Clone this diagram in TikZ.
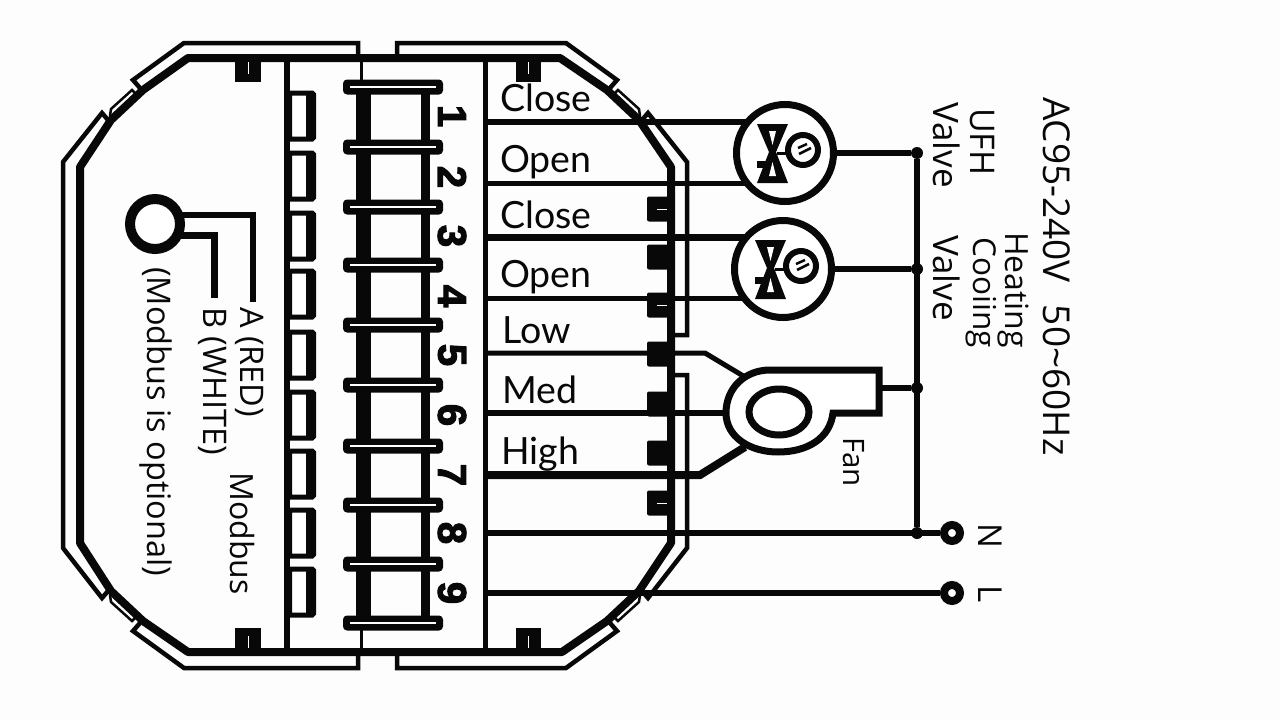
\documentclass[tikz,border=0pt]{standalone}
\usepackage{fontspec}
\usepackage{xcolor}
\usepackage{tikz}
\usetikzlibrary{calc}
\usetikzlibrary{positioning}
\setmainfont{Open Sans}
\newfontfamily\labelfont{Lato}
\newfontfamily\digitfont[BoldFeatures={FakeBold=3}]{Liberation Sans}
\definecolor{paper}{RGB}{253,253,253}
\definecolor{ink}{RGB}{8,8,8}
\tikzset{
	shell/.style={ink,line width=4.5,line join=miter},
	shellthin/.style={ink,line width=2.5,line join=miter},
	shellthick/.style={ink,line width=8,line join=round},
	wire/.style={ink,line width=6},
	termbar/.style={fill=ink,rounded corners=4,inner sep=0,minimum width=100,minimum height=15,
		path picture={\draw[white,line width=1.6] ($(path picture bounding box.west)+(7,0)$)--($(path picture bounding box.east)+(-7,0)$);}},
	slotbox/.style={draw=ink,fill=white,line width=5,rounded corners=1.5,inner sep=0,minimum width=24,minimum height=46},
	tabbox/.style={fill=ink,rounded corners=2,inner sep=0,minimum width=24,minimum height=25},
	valvering/.style={circle,draw=ink,fill=white,line width=7,inner sep=0,minimum size=97},
	dotjoin/.style={circle,fill=ink,inner sep=0,minimum size=12},
	endring/.style={circle,draw=ink,fill=white,line width=8,inner sep=0,minimum size=16},
	digit/.style={rotate=-90,font=\digitfont\bfseries\fontsize{40}{40}\selectfont,inner sep=0,ink},
	pinlabel/.style={anchor=base west,inner sep=0,ink,font=\labelfont\fontsize{37.5}{37.5}\selectfont},
	sidelabel/.style={rotate=-90,anchor=base west,inner sep=0,ink,font=\fontsize{#1}{#1}\selectfont},
	sidelabel/.default=28,
}
\newcommand{\valveicon}[2]{
	\begin{scope}[shift={(#1,#2)}]
		\fill[ink] (-28,-29)--(3,-29)--(-9,-1)--(3,30)--(-28,30)--(-16,-1)--cycle;
		\fill[ink] (-28,8) rectangle (-14,15);
		\fill[white] (-16,-22)--(-9,-22)--(-12.5,-8)--cycle;
		\fill[white] (-16,23)--(-9,23)--(-12.5,9)--cycle;
		\draw[ink,line width=3] (-8,0)--(4,0);
		\draw[ink,line width=6,fill=white] (18,-3) circle[radius=15];
		\draw[ink,line width=2.5] (13,-5)--(22,-9);
		\draw[ink,line width=2.5] (14,1)--(26,-5);
	\end{scope}
}
\begin{document}
\begin{tikzpicture}[x=1pt,y=-1pt]
	\useasboundingbox (0,0) rectangle (1280,720);
	\fill[paper] (0,0) rectangle (1280,720);

	% housing, outer line
	\draw[shell] (358,54)--(358,43)--(184,43)--(133,80)--(140,88);
	\draw[shell] (108,120)--(102,113)--(63,162)--(63,548)--(102,598)--(108,591);
	\draw[shell] (140,623)--(133,631)--(184,668)--(358,668)--(358,656);
	\draw[shell] (397,54)--(397,43)--(566,43)--(617,80)--(610,88);
	\draw[shell] (642,120)--(648,113)--(687,162)--(687,335)--(675,335);
	\draw[shell] (675,375)--(687,375)--(687,548)--(648,598)--(642,591);
	\draw[shell] (610,623)--(617,631)--(566,668)--(397,668)--(397,656);
	% slim pieces between the ticks
	\draw[shellthin] (110,116)--(111,109)--(132,90)--(137,95);
	\draw[shellthin] (640,116)--(639,109)--(618,90)--(613,95);
	\draw[shellthin] (110,595)--(111,602)--(132,621)--(137,616);
	\draw[shellthin] (640,595)--(639,602)--(618,621)--(613,616);

	% housing, inner line
	\draw[shellthick] (560,58)--(188,58)--(143,90)--(111,120)--(80,167)--(80,543)--(111,591)--(143,621)--(188,652)--(562,652)--(607,621)--(639,591)--(671,543)--(671,167)--(639,120)--(607,90)--cycle;
	\draw[ink,line width=6] (287,58)--(287,652);
	\draw[ink,line width=5] (485,58)--(485,652);
	\draw[ink,line width=3] (361,58)--(361,85);
	\draw[ink,line width=3] (361,625)--(361,652);

	% small clips on the rim
	\fill[ink] (235,60) rectangle (261,82);
	\fill[ink] (516,60) rectangle (541,82);
	\fill[ink] (235,628) rectangle (261,650);
	\fill[ink] (516,628) rectangle (541,650);
	\draw[white,line width=1] (248,62)--(248,74);
	\draw[white,line width=1] (528,62)--(528,74);
	\draw[white,line width=1] (248,636)--(248,648);
	\draw[white,line width=1] (528,636)--(528,648);

	\node[slotbox] (slotA) at (301.5,116) {};
	\node[slotbox] (slotB) at (301.5,176) {};
	\node[slotbox] (slotC) at (301.5,236) {};
	\node[slotbox] (slotD) at (301.5,294) {};
	\node[slotbox] (slotE) at (301.5,355) {};
	\node[slotbox] (slotF) at (301.5,415) {};
	\node[slotbox] (slotG) at (301.5,474) {};
	\node[slotbox] (slotH) at (301.5,533) {};
	\node[slotbox] (slotI) at (301.5,592) {};
	\draw[ink,line width=9] (310.5,94)--(310.5,138);
	\draw[ink,line width=9] (310.5,154)--(310.5,198);
	\draw[ink,line width=9] (310.5,214)--(310.5,258);
	\draw[ink,line width=9] (310.5,272)--(310.5,316);
	\draw[ink,line width=9] (310.5,333)--(310.5,377);
	\draw[ink,line width=9] (310.5,393)--(310.5,437);
	\draw[ink,line width=9] (310.5,452)--(310.5,496);
	\draw[ink,line width=9] (310.5,511)--(310.5,555);
	\draw[ink,line width=9] (310.5,570)--(310.5,614);

	% terminal block
	\fill[ink] (356,87) rectangle (371,623);
	\fill[ink] (421,87) rectangle (430,623);
	\node[termbar] (barA) at (393,87) {};
	\node[termbar] (barB) at (393,147) {};
	\node[termbar] (barC) at (393,207) {};
	\node[termbar] (barD) at (393,265) {};
	\node[termbar] (barE) at (393,325) {};
	\node[termbar] (barF) at (393,385) {};
	\node[termbar] (barG) at (393,446) {};
	\node[termbar] (barH) at (393,505) {};
	\node[termbar] (barI) at (393,564) {};
	\node[termbar] (barJ) at (393,623) {};

	\node[digit] (numA) at (452,116) {1};
	\node[digit] (numB) at (452,177) {2};
	\node[digit] (numC) at (452,236) {3};
	\node[digit] (numD) at (452,296) {4};
	\node[digit] (numE) at (452,355) {5};
	\node[digit] (numF) at (452,415) {6};
	\node[digit] (numG) at (452,475) {7};
	\node[digit] (numH) at (452,533) {8};
	\node[digit] (numI) at (452,593) {9};

	% tabs on the right rim
	\node[tabbox] (tabA) at (659,209) {};
	\node[tabbox] (tabB) at (659,257) {};
	\node[tabbox] (tabC) at (659,305) {};
	\node[tabbox] (tabD) at (659,354) {};
	\node[tabbox] (tabE) at (659,404) {};
	\node[tabbox] (tabF) at (659,453) {};
	\node[tabbox] (tabG) at (659,503) {};
	\draw[white,line width=1] (657,209)--(667,209);
	\draw[white,line width=1] (657,305)--(667,305);
	\draw[white,line width=1] (657,503)--(667,503);

	% modbus
	\draw[ink,line width=6] (155,215)--(253,215)--(253,302);
	\draw[ink,line width=7] (155,235)--(214,235)--(214,298);
	\node[circle,draw=ink,fill=white,line width=10,inner sep=0,minimum size=50] (modbus) at (155,224) {};
	\node[sidelabel=32.5] (labA) at (240,307) {A (RED)};
	\node[sidelabel=32.5] (labB) at (203,307) {B (WHITE)};
	\node[sidelabel=32] (labM) at (230,472) {Modbus};
	\node[sidelabel=32.5] (labO) at (147,267) {(Modbus is optional)};

	% wires
	\coordinate (pinA) at (485,122);
	\coordinate (pinB) at (485,183);
	\coordinate (pinC) at (485,237);
	\coordinate (pinD) at (485,298);
	\coordinate (pinE) at (485,353);
	\coordinate (pinF) at (485,413);
	\coordinate (pinG) at (485,475);
	\coordinate (pinH) at (485,533);
	\coordinate (pinI) at (485,593);
	\coordinate (bendE) at (705,353);
	\coordinate (bendG) at (700,475);
	\coordinate (fanE) at (745,377);
	\coordinate (fanF) at (730,413);
	\coordinate (fanG) at (745,447);
	\coordinate (fanOut) at (879,388);

	\draw[wire] (pinA)--(765,122);
	\draw[wire,line width=5] (pinB)--(765,183);
	\draw[wire,line width=7] (pinC)--(765,237);
	\draw[wire,line width=5] (pinD)--(765,298);
	\draw[wire,line width=5] (pinE)--(bendE)--(fanE);
	\draw[wire,line width=6] (pinF)--(fanF);
	\draw[wire,line width=8] (pinG)--(bendG)--(fanG);

	\node[valvering] (valveU) at (785,153) {};
	\node[valvering] (valveH) at (783,269) {};
	\valveicon{785}{153}
	\valveicon{783}{269}

	% fan
	\draw[ink,line width=7,fill=white] (879,370)--(770,370) .. controls (745,370) and (726,388) .. (726,413) .. controls (726,437) and (750,452) .. (778,452) .. controls (808,452) and (830,438) .. (833,413)--(879,413)--cycle;
	\draw[ink,line width=7] (779,412) ellipse[x radius=30,y radius=23];
	\node[sidelabel=29.5] (labFan) at (843,437) {Fan};

	% supply
	\node[dotjoin] (dotU) at (917,153) {};
	\node[dotjoin] (dotH) at (917,269) {};
	\node[dotjoin] (dotF) at (917,388) {};
	\node[dotjoin] (dotN) at (917,533) {};
	\node[endring] (termN) at (952,533) {};
	\node[endring] (termL) at (952,593) {};
	\draw[wire] (dotU)--(dotN);
	\draw[wire] (valveU)--(dotU);
	\draw[wire] (valveH)--(dotH);
	\draw[wire] (fanOut)--(dotF);
	\draw[wire] (pinH)--(termN);
	\draw[wire] (pinI)--(termL);

	\node[pinlabel] (labClose) at (500,111) {Close};
	\node[pinlabel] (labOpen) at (500,172) {Open};
	\node[pinlabel] (labCloseB) at (500,228) {Close};
	\node[pinlabel] (labOpenB) at (500,287) {Open};
	\node[pinlabel] (labLow) at (502,343) {Low};
	\node[pinlabel] (labMed) at (502,403) {Med};
	\node[pinlabel] (labHigh) at (501,464) {High};

	\node[sidelabel=33] (labN) at (978,523) {N};
	\node[sidelabel=33] (labL) at (978,585) {L};
	\node[sidelabel=35] (labValveA) at (933,102) {Valve};
	\node[sidelabel=34] (labUFH) at (970,108) {UFH};
	\node[sidelabel=35] (labValveB) at (933,235) {Valve};
	\node[sidelabel=31.5] (labCool) at (973,237) {Cooiing};
	\node[sidelabel=32] (labHeat) at (1005,232) {Heating};
	\node[sidelabel=37] (labAC) at (1043,97) {AC95-240V\hspace{22pt}50\textasciitilde60Hz};
\end{tikzpicture}
\end{document}
